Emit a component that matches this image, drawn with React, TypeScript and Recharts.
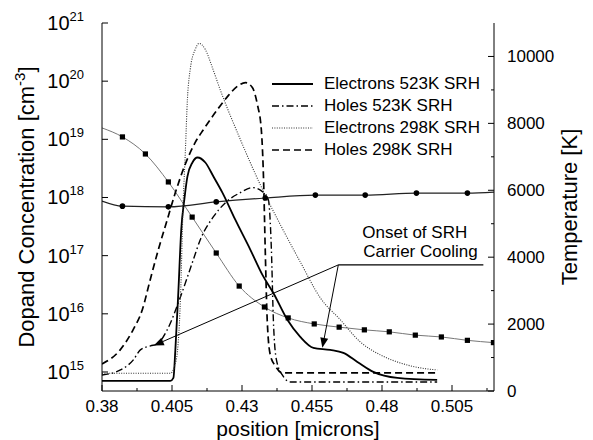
import React from "react";
import { LineChart, Line, XAxis, YAxis, Legend, ReferenceLine } from "recharts";

// carrier temperatures [K] vs position [microns]
const electrons523: [number, number][] = [
  [0.38, 300], [0.4044, 300], [0.4055, 390], [0.4062, 1230], [0.4073, 3020], [0.4083, 4820],
  [0.4094, 5720], [0.4105, 6410], [0.4123, 6830], [0.4141, 6980], [0.4169, 6830], [0.4198, 6410],
  [0.423, 5930], [0.4276, 5120], [0.433, 4220], [0.4373, 3470], [0.4412, 2930], [0.4462, 2130],
  [0.4508, 1620], [0.4555, 1290], [0.4615, 1230], [0.4662, 1140], [0.4712, 870], [0.4769, 570],
  [0.4855, 390], [0.4997, 330],
];
const holes523: [number, number][] = [
  [0.38, 480], [0.3866, 630], [0.3912, 930], [0.3937, 1230], [0.3973, 1350], [0.3998, 1410],
  [0.4033, 1830], [0.408, 2810], [0.4126, 3920], [0.4151, 4520], [0.4198, 5210], [0.4241, 5630],
  [0.4294, 5930], [0.4337, 6080], [0.4373, 5960], [0.4394, 5720], [0.4405, 4220], [0.4412, 2130],
  [0.4423, 930], [0.4444, 480], [0.4473, 270], [0.4997, 270],
];
const electrons298: [number, number][] = [
  [0.38, 530], [0.4044, 530], [0.4065, 930], [0.408, 2720], [0.409, 5630], [0.4098, 7220],
  [0.4105, 8710], [0.4115, 9610], [0.4133, 10210], [0.4147, 10390], [0.4169, 10210], [0.4194, 9670],
  [0.4222, 9010], [0.4294, 7520], [0.4365, 6170], [0.4437, 4970], [0.4508, 3860], [0.458, 2780],
  [0.4651, 2130], [0.4722, 1470], [0.4794, 1080], [0.4865, 840], [0.4937, 690], [0.4997, 630],
];
const holes298: [number, number][] = [
  [0.38, 810], [0.3865, 1230], [0.3911, 1830], [0.3944, 2430], [0.3972, 3320], [0.4001, 4220],
  [0.4033, 5120], [0.4062, 5930], [0.4097, 6770], [0.4133, 7430], [0.4162, 7810], [0.4212, 8410],
  [0.4248, 8800], [0.4287, 9130], [0.4312, 9220], [0.4337, 9070], [0.4355, 8560], [0.4369, 7810],
  [0.4377, 6320], [0.4383, 4220], [0.439, 2130], [0.4401, 1080], [0.4419, 750], [0.4444, 540],
  [0.4997, 540],
];

// dopant concentrations [cm^-3]
const dopingSquares: [number, number][] = [
  [0.38, 1.57e19], [0.3873, 1.1e19], [0.3955, 5.6e18], [0.4037, 1.85e18], [0.4122, 4.6e17],
  [0.4208, 1.11e17], [0.429, 3.0e16], [0.438, 1.31e16], [0.4465, 8.5e15], [0.4558, 6.7e15],
  [0.4647, 5.9e15], [0.4737, 5.3e15], [0.4826, 4.9e15], [0.4919, 4.3e15], [0.5012, 4.0e15],
  [0.5105, 3.5e15], [0.5198, 3.2e15],
];
const dopingCircles: [number, number][] = [
  [0.38, 8.7e17], [0.3873, 7.1e17], [0.4037, 6.9e17], [0.4208, 8.4e17], [0.4383, 9.8e17],
  [0.4562, 1.1e18], [0.474, 1.1e18], [0.4923, 1.19e18], [0.5105, 1.19e18], [0.52, 1.24e18],
];

const X_TICKS = [0.38, 0.3925, 0.405, 0.4175, 0.43, 0.4425, 0.455, 0.4675, 0.48, 0.4925, 0.505, 0.5175];
const X_LABELS = [0.38, 0.405, 0.43, 0.455, 0.48, 0.505];
const LEFT_TICKS = [1e15, 1e16, 1e17, 1e18, 1e19, 1e20, 1e21];
const RIGHT_TICKS = [0, 1000, 2000, 3000, 4000, 5000, 6000, 7000, 8000, 9000, 10000];
const RIGHT_LABELS = [0, 2000, 4000, 6000, 8000, 10000];

// annotation: underline end points and the two arrow tips (x, T)
const NOTE_START = { x: 0.4644, y: 3770 };
const NOTE_END = { x: 0.5162, y: 3770 };
const ARROW_TIPS = [{ x: 0.3985, y: 1360 }, { x: 0.4587, y: 1290 }];

const FONT = "'Liberation Sans', Arial, Helvetica, sans-serif";

const SERIES = [
  { name: "Electrons 523K SRH", data: electrons523, dash: undefined, width: 1.8, color: "#000" },
  { name: "Holes 523K SRH", data: holes523, dash: "7 3 1.5 3", width: 1.4, color: "#000" },
  { name: "Electrons 298K SRH", data: electrons298, dash: "1 1.4", width: 1.1, color: "#333" },
  { name: "Holes 298K SRH", data: holes298, dash: "7 4", width: 1.7, color: "#000" },
];

const toPts = (arr: [number, number][]) => arr.map(([x, y]) => ({ x, y }));
const near = (list: number[], v: number) => list.some((t) => Math.abs(t - v) < 1e-9);

const XTick = (props: any) => {
  const { x, y, payload } = props;
  const major = near(X_LABELS, payload.value);
  return (
    <g>
      <line x1={x} y1={y} x2={x} y2={y - (major ? 6 : 3)} stroke="#000" />
      {major && (
        <text x={x} y={y + 21} textAnchor="middle" fontSize={17} fontFamily={FONT} fill="#000">
          {payload.value}
        </text>
      )}
    </g>
  );
};

const TopTick = (props: any) => {
  const { x, y, payload } = props;
  const major = near(X_LABELS, payload.value);
  return <line x1={x} y1={y} x2={x} y2={y + (major ? 6 : 3)} stroke="#000" />;
};

const LeftTick = (props: any) => {
  const { x, y, payload } = props;
  const exp = Math.round(Math.log10(payload.value));
  return (
    <g>
      <line x1={x} y1={y} x2={x + 6} y2={y} stroke="#000" />
      <text x={x - 18} y={y + 7} textAnchor="end" fontSize={20} fontFamily={FONT} fill="#000">
        <tspan>10</tspan>
        <tspan dy={-9} fontSize={13}>{exp}</tspan>
      </text>
    </g>
  );
};

const RightTick = (props: any) => {
  const { x, y, payload } = props;
  const major = near(RIGHT_LABELS, payload.value);
  return (
    <g>
      <line x1={x} y1={y} x2={x - (major ? 6 : 3)} y2={y} stroke="#000" />
      {major && (
        <text x={x + 13} y={y + 6} textAnchor="start" fontSize={17} fontFamily={FONT} fill="#000">
          {payload.value}
        </text>
      )}
    </g>
  );
};

const squareDot = (props: any) => {
  const { cx, cy, index } = props;
  if (index === 0) return <g key={`s${index}`} />;
  return <rect key={`s${index}`} x={cx - 2.6} y={cy - 2.6} width={5.2} height={5.2} fill="#000" />;
};

const circleDot = (props: any) => {
  const { cx, cy, index } = props;
  if (index === 0 || index === dopingCircles.length - 1) return <g key={`c${index}`} />;
  return <circle key={`c${index}`} cx={cx} cy={cy} r={2.8} fill="#000" />;
};

const arrowShape = (p: any) => {
  const { x1, y1, x2, y2 } = p;
  const a = Math.atan2(y2 - y1, x2 - x1);
  const L = 10;
  const W = 4;
  const bx = x2 - L * Math.cos(a);
  const by = y2 - L * Math.sin(a);
  const pts = `${x2},${y2} ${bx - W * Math.sin(a)},${by + W * Math.cos(a)} ${bx + W * Math.sin(a)},${by - W * Math.cos(a)}`;
  return (
    <g>
      <line x1={x1} y1={y1} x2={bx} y2={by} stroke="#000" strokeWidth={1} />
      <polygon points={pts} fill="#000" />
    </g>
  );
};

const noteShape = (p: any) => {
  const { x1, y1, x2, y2 } = p;
  return (
    <g>
      <line x1={x1} y1={y1} x2={x2} y2={y2} stroke="#000" strokeWidth={1.2} />
      <text x={x1 + 24} y={y1 - 27} fontSize={17} fontFamily={FONT} fill="#000">Onset of SRH</text>
      <text x={x1 + 25} y={y1 - 8} fontSize={17} fontFamily={FONT} fill="#000">Carrier Cooling</text>
    </g>
  );
};

const LegendBox = () => (
  <div style={{ fontFamily: FONT, fontSize: 17, color: "#000" }}>
    {SERIES.map((s) => (
      <div key={s.name} style={{ display: "flex", alignItems: "center", height: 22 }}>
        <svg width={41} height={10} style={{ marginRight: 11 }}>
          <line x1={0} y1={5} x2={41} y2={5} stroke={s.color} strokeWidth={s.width} strokeDasharray={s.dash} />
        </svg>
        <span style={{ whiteSpace: "nowrap" }}>{s.name}</span>
      </div>
    ))}
  </div>
);

const xTitle = (props: any) => {
  const vb = props.viewBox || { x: 102, y: 391, width: 392, height: 49 };
  return (
    <text x={vb.x + vb.width / 2} y={vb.y + 45} textAnchor="middle" fontSize={21} fontFamily={FONT} fill="#000">
      position [microns]
    </text>
  );
};

const leftTitle = (props: any) => {
  const vb = props.viewBox || { x: 0, y: 23, width: 102, height: 368 };
  const cx = vb.x + 34;
  const cy = vb.y + vb.height / 2;
  return (
    <text x={cx} y={cy} transform={`rotate(-90 ${cx} ${cy})`} textAnchor="middle" fontSize={22} fontFamily={FONT} fill="#000">
      <tspan>Dopand Concentration [cm</tspan>
      <tspan dy={-9} fontSize={15}>-3</tspan>
      <tspan dy={9}>]</tspan>
    </text>
  );
};

const rightTitle = (props: any) => {
  const vb = props.viewBox || { x: 494, y: 23, width: 99, height: 368 };
  const cx = vb.x + 83;
  const cy = vb.y + vb.height / 2;
  return (
    <text x={cx} y={cy} transform={`rotate(-90 ${cx} ${cy})`} textAnchor="middle" fontSize={22} fontFamily={FONT} fill="#000">
      Temperature [K]
    </text>
  );
};

export default function App() {
  return (
    <div style={{ position: "absolute", left: 0, top: 0, background: "#fff" }}>
      <LineChart width={593} height={440} margin={{ top: 23, right: 0, bottom: 0, left: 0 }}>
        <XAxis
          dataKey="x"
          type="number"
          domain={[0.38, 0.52]}
          ticks={X_TICKS}
          interval={0}
          allowDataOverflow
          height={49}
          tickSize={0}
          tickMargin={0}
          tickLine={false}
          tick={<XTick />}
          axisLine={{ stroke: "#000" }}
          label={xTitle}
        />
        <XAxis
          xAxisId="top"
          orientation="top"
          dataKey="x"
          type="number"
          domain={[0.38, 0.52]}
          ticks={X_TICKS}
          interval={0}
          allowDataOverflow
          height={0}
          tickSize={0}
          tickMargin={0}
          tickLine={false}
          tick={<TopTick />}
          axisLine={{ stroke: "#000" }}
        />
        <YAxis
          yAxisId="left"
          scale="log"
          domain={[4.71e14, 1e21]}
          allowDataOverflow
          ticks={LEFT_TICKS}
          interval={0}
          width={102}
          tickSize={0}
          tickMargin={0}
          tickLine={false}
          tick={<LeftTick />}
          axisLine={{ stroke: "#000" }}
          label={leftTitle}
        />
        <YAxis
          yAxisId="right"
          orientation="right"
          type="number"
          domain={[0, 11000]}
          allowDataOverflow
          ticks={RIGHT_TICKS}
          interval={0}
          width={99}
          tickSize={0}
          tickMargin={0}
          tickLine={false}
          tick={<RightTick />}
          axisLine={{ stroke: "#000" }}
          label={rightTitle}
        />
        <Legend
          layout="horizontal"
          verticalAlign="middle"
          align="center"
          content={<LegendBox />}
          wrapperStyle={{ left: 272, top: 73, width: "auto" }}
        />
        <Line
          yAxisId="left"
          data={toPts(dopingSquares)}
          dataKey="y"
          type="monotone"
          stroke="#777"
          strokeWidth={1}
          dot={squareDot}
          legendType="none"
          isAnimationActive={false}
        />
        <Line
          yAxisId="left"
          data={toPts(dopingCircles)}
          dataKey="y"
          type="monotone"
          stroke="#222"
          strokeWidth={1.2}
          dot={circleDot}
          legendType="none"
          isAnimationActive={false}
        />
        {SERIES.map((s) => (
          <Line
            key={s.name}
            name={s.name}
            yAxisId="right"
            data={toPts(s.data)}
            dataKey="y"
            type="monotone"
            stroke={s.color}
            strokeWidth={s.width}
            strokeDasharray={s.dash}
            dot={false}
            isAnimationActive={false}
          />
        ))}
        <ReferenceLine yAxisId="right" segment={[NOTE_START, NOTE_END]} shape={noteShape} ifOverflow="visible" />
        {ARROW_TIPS.map((t, i) => (
          <ReferenceLine key={i} yAxisId="right" segment={[NOTE_START, t]} shape={arrowShape} ifOverflow="visible" />
        ))}
      </LineChart>
    </div>
  );
}
